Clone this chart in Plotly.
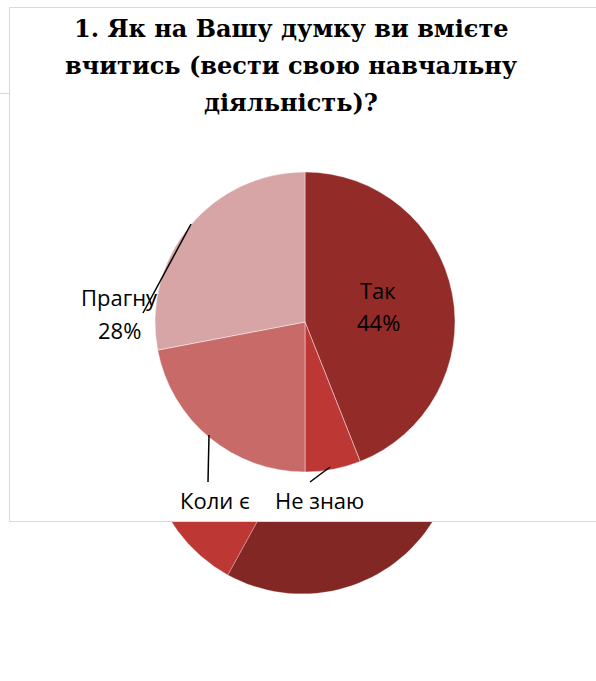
import numpy as np
import plotly.graph_objects as go

# ---- data ----
categories = ["Так", "Не знаю", "Коли є", "Прагну"]
values_main = [44, 6, 22, 28]           # main (front) pie, %
values_back = [58, 9, 17, 16]           # partially visible pie behind the panel, %
colors = ["#932b28", "#bd3835", "#c86a68", "#d7a5a5"]
back_colors = ["#832725", "#bd3835", "#c86a68", "#d7a5a5"]
title_lines = ["1. Як на Вашу думку ви вмієте",
               "вчитись (вести свою навчальну",
               "діяльність)?"]

W, H = 596, 681

fig = go.Figure()

# ---- back pie (drawn in pixel-space axes, computed from values) ----
cx_b, cy_b, r_b = 302, 440, 154
cum = np.cumsum([0] + values_back) / sum(values_back) * 2 * np.pi
for i, cat in enumerate(categories):
    a = np.linspace(cum[i], cum[i + 1], 80)
    xs = np.concatenate([[cx_b], cx_b + r_b * np.sin(a), [cx_b]])
    ys = np.concatenate([[cy_b], cy_b - r_b * np.cos(a), [cy_b]])
    fig.add_trace(go.Scatter(x=xs, y=ys, fill="toself", fillcolor=back_colors[i],
                             mode="lines", line=dict(color="rgba(255,255,255,0.5)", width=0.5),
                             hoverinfo="skip", showlegend=False))

# ---- white chart panel covering the back pie ----
px0, py0, px1, py1 = 9.5, 7.5, 600, 521.5
fig.add_trace(go.Scatter(x=[px1, px0, px0, px1], y=[py0, py0, py1, py1],
                         fill="toself", fillcolor="white", mode="lines",
                         line=dict(color="#d9d9d9", width=1),
                         hoverinfo="skip", showlegend=False))
fig.add_trace(go.Scatter(x=[0, px0], y=[93.5, 93.5], mode="lines",
                         line=dict(color="#d9d9d9", width=1),
                         hoverinfo="skip", showlegend=False))

# ---- main pie ----
cx, cy, r = 305, 322, 150
fig.add_trace(go.Pie(
    labels=categories, values=values_main, sort=False, direction="clockwise",
    rotation=0, marker=dict(colors=colors, line=dict(color="rgba(255,255,255,0.6)", width=0.7)),
    textinfo="none", hoverinfo="label+percent", showlegend=False,
    domain=dict(x=[(cx - r) / W, (cx + r) / W], y=[(H - cy - r) / H, (H - cy + r) / H]),
))

# ---- leader lines ----
leaders = [(191, 224, 143, 313), (209, 435, 208, 482), (330, 467, 310, 482)]
for x0, y0, x1, y1 in leaders:
    fig.add_shape(type="line", x0=x0, y0=y0, x1=x1, y1=y1, xref="x", yref="y",
                  line=dict(color="black", width=1.5))

# ---- data labels ----
lab_font = dict(family="Open Sans", size=22, color="black")
pct = [f"{v}%" for v in values_main]
label_pos = {0: (378, 290, 322), 3: (119, 297, 330), 2: (215, 500, None), 1: (319, 500, None)}
for i, (x, y1, y2) in label_pos.items():
    fig.add_annotation(x=x, y=y1, xref="x", yref="y", text=categories[i], showarrow=False,
                       font=lab_font, xanchor="center", yanchor="middle")
    if y2 is not None:
        fig.add_annotation(x=x, y=y2, xref="x", yref="y", text=pct[i], showarrow=False,
                           font=lab_font, xanchor="center", yanchor="middle")

# ---- title ----
for k, line in enumerate(title_lines):
    fig.add_annotation(x=291, y=28 + 37 * k, xref="x", yref="y", text=f"<b>{line}</b>",
                       showarrow=False, xanchor="center", yanchor="middle",
                       font=dict(family="DejaVu Serif", size=24, color="black"))

fig.update_xaxes(range=[0, W], visible=False, fixedrange=True)
fig.update_yaxes(range=[H, 0], visible=False, fixedrange=True)
fig.update_layout(width=W, height=H, margin=dict(l=0, r=0, t=0, b=0),
                  paper_bgcolor="white", plot_bgcolor="white")

fig.write_html("out.html")
